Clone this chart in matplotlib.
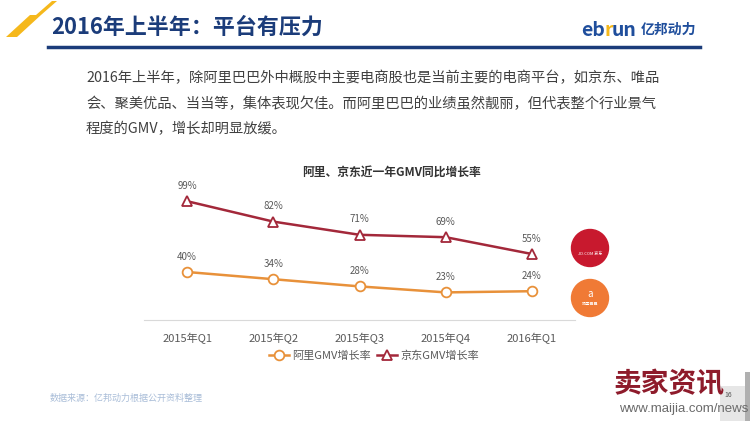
import matplotlib
matplotlib.use('Agg')
import matplotlib.pyplot as plt
from matplotlib.patches import Ellipse, Polygon
from matplotlib.lines import Line2D

plt.rcParams['font.family'] = ['Noto Sans CJK SC', 'DejaVu Sans']

# data
quarters = ['2015年Q1', '2015年Q2', '2015年Q3', '2015年Q4', '2016年Q1']
ali_gmv = [40, 34, 28, 23, 24]
jd_gmv = [99, 82, 71, 69, 55]
series_names = ['阿里GMV增长率', '京东GMV增长率']

W, H = 750, 421
ali_color = '#e8913a'
jd_color = '#a3283a'
navy = '#1b3c7a'


def fx(x):
    return x / W


def fy(y):
    return 1 - y / H


def box(pts, color):
    fig.patches.append(Polygon([(fx(a), fy(b)) for a, b in pts], closed=True,
                               transform=fig.transFigure, color=color, lw=0))


fig = plt.figure(figsize=(7.5, 4.21), dpi=100)
fig.patch.set_facecolor('white')

# header decoration
box([(52, 1), (57, 1), (41, 15), (36, 15)], '#f5b81c')
box([(30, 15), (41, 15), (17, 37), (6, 37)], '#f5b81c')
fig.add_artist(Line2D([fx(48), fx(700)], [fy(47), fy(47)], color=navy, lw=2.5, transform=fig.transFigure))
fig.text(fx(51), fy(27), '2016年上半年：平台有压力', fontsize=15.8, fontweight='bold', color=navy, va='center')

# ebrun logo
fig.text(fx(581), fy(30), 'eb', fontsize=14, fontweight='bold', color='#1f4e9c', va='center')
fig.text(fx(604), fy(30), 'r', fontsize=14, fontweight='bold', color='#f5b81c', va='center')
fig.text(fx(612), fy(30), 'un', fontsize=14, fontweight='bold', color='#1f4e9c', va='center')
fig.text(fx(641), fy(30), '亿邦动力', fontsize=10, fontweight='bold', color='#1f4e9c', va='center')

# paragraph
para = ['2016年上半年，除阿里巴巴外中概股中主要电商股也是当前主要的电商平台，如京东、唯品',
        '会、聚美优品、当当等，集体表现欠佳。而阿里巴巴的业绩虽然靓丽，但代表整个行业景气',
        '程度的GMV，增长却明显放缓。']
for i, line in enumerate(para):
    fig.text(fx(86), fy(78 + i * 25.5), line, fontsize=10.3, color='#404040', va='center')

# chart
ax = fig.add_axes([fx(144), fy(320), fx(575) - fx(144), fy(176) - fy(320)])
xs = range(len(quarters))
ax.plot(xs, ali_gmv, color=ali_color, lw=1.8, marker='o', ms=7, mfc='white', mec=ali_color, mew=1.3,
        label=series_names[0])
ax.plot(xs, jd_gmv, color=jd_color, lw=1.8, marker='^', ms=7, mfc='white', mec=jd_color, mew=1.3,
        label=series_names[1])
for x, v in zip(xs, ali_gmv):
    ax.annotate(f'{v}%', (x, v), xytext=(0, 9), textcoords='offset points', ha='center',
                fontsize=7, color='#595959')
for x, v in zip(xs, jd_gmv):
    ax.annotate(f'{v}%', (x, v), xytext=(0, 9), textcoords='offset points', ha='center',
                fontsize=7, color='#595959')
ax.set_xlim(-0.5, 4.5)
ax.set_ylim(0, 120)
ax.set_xticks(list(xs))
ax.set_xticklabels(quarters, fontsize=8, color='#595959')
ax.tick_params(axis='x', length=0, pad=9)
ax.set_yticks([])
for s in ['top', 'left', 'right']:
    ax.spines[s].set_visible(False)
ax.spines['bottom'].set_color('#d9d9d9')
ax.set_facecolor('none')
fig.text(fx(392), fy(172), '阿里、京东近一年GMV同比增长率', fontsize=8.5, fontweight='bold', color='#333333',
         ha='center', va='center')
fig.legend(loc='center', bbox_to_anchor=(fx(374), fy(356)), ncol=2, frameon=False, fontsize=8,
           handlelength=1.8, columnspacing=0.6, handletextpad=0.3, labelcolor='#595959')

# logos
fig.patches.append(Ellipse((fx(590), fy(248)), 37 / W, 37 / H, transform=fig.transFigure, color='#c8192e'))
fig.text(fx(590), fy(254), 'JD.COM 京东', fontsize=3, color='white', ha='center', va='center')
fig.patches.append(Ellipse((fx(590), fy(298)), 37 / W, 37 / H, transform=fig.transFigure, color='#f07a35'))
fig.text(fx(590), fy(294), 'a', fontsize=7, color='white', ha='center', va='center', style='italic')
fig.text(fx(590), fy(304), '阿里巴巴', fontsize=3, color='white', ha='center', va='center')

# footer
fig.text(fx(50), fy(398), '数据来源：亿邦动力根据公开资料整理', fontsize=6.5, color='#a9bdd8', va='center')
box([(720, 386), (750, 386), (750, 421), (720, 421)], '#e6e6e6')
box([(745, 372), (750, 372), (750, 421), (745, 421)], '#b0b0b0')
fig.text(fx(614), fy(384), '卖家资讯', fontsize=20, fontweight='bold', color='#8e1b2b', va='center')
fig.text(fx(724), fy(395), '16', fontsize=5, color='#555555', va='center')
fig.text(fx(619), fy(409), 'www.maijia.com/news', fontsize=9.5, color='#6a6a6a', va='center',
         family='Liberation Sans')

fig.savefig('out.png', dpi=100)
